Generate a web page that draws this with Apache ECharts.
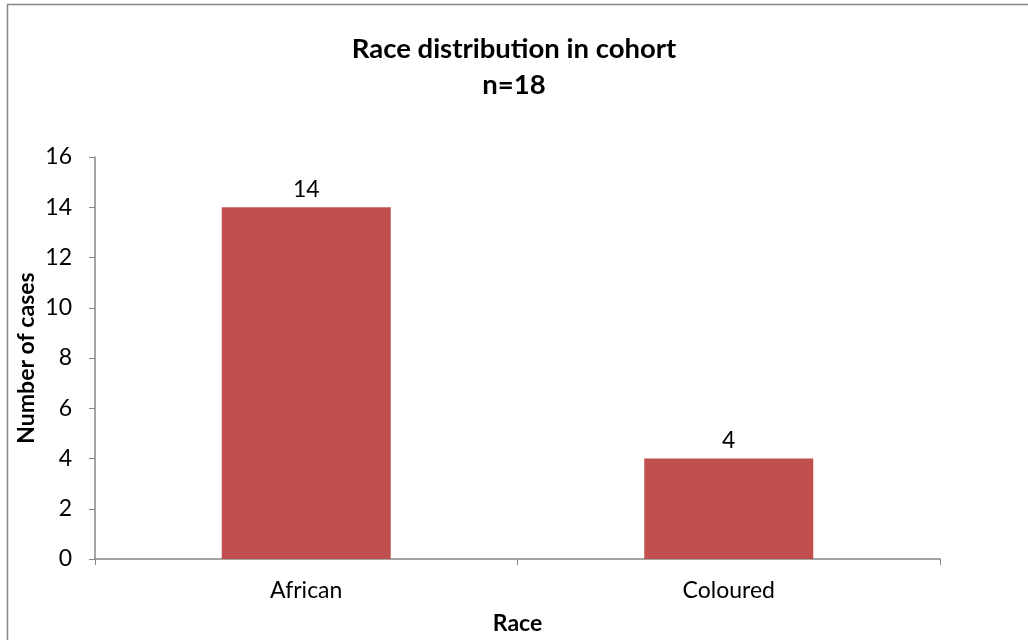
<!DOCTYPE html>
<html><head><meta charset="utf-8">
<script src="https://cdn.jsdelivr.net/npm/echarts@6/dist/echarts.min.js"></script>
<style>html,body{margin:0;padding:0;background:#fff}#c{width:1028px;height:640px}</style>
</head><body><div id="c"></div>
<script>
var categories = ['African', 'Coloured'];
var values = [14, 4];
var titleLines = ['Race distribution in cohort', 'n=18'];
var yAxisName = 'Number of cases';
var xAxisName = 'Race';

var font = 'Lato, "Liberation Sans", sans-serif';
var chart = echarts.init(document.getElementById('c'));
chart.setOption({
  backgroundColor: '#fff',
  animation: false,
  graphic: [{type: 'rect', shape: {x: 7.5, y: 4.5, width: 1040, height: 660}, style: {fill: 'none', stroke: '#868686', lineWidth: 1.5}, silent: true}],
  title: {
    text: titleLines.join('\n'), left: 'center', top: 26,
    textStyle: {fontFamily: font, fontWeight: 'bold', fontSize: 27.5, color: '#000', lineHeight: 36}
  },
  grid: {left: 95, right: 88, top: 157, bottom: 79},
  xAxis: {
    type: 'category', data: categories,
    name: xAxisName, nameLocation: 'middle', nameGap: 53, nameMoveOverlap: false,
    nameTextStyle: {fontFamily: font, fontWeight: 'bold', fontSize: 23, color: '#000'},
    axisLine: {lineStyle: {color: '#868686', width: 1.5}},
    axisTick: {show: true, length: 6, lineStyle: {color: '#868686'}},
    axisLabel: {fontFamily: font, fontSize: 23, color: '#000', margin: 20},
    splitLine: {show: false}
  },
  yAxis: {
    type: 'value', min: 0, max: 16, interval: 2,
    name: yAxisName, nameLocation: 'middle', nameGap: 57, nameMoveOverlap: false,
    nameTextStyle: {fontFamily: font, fontWeight: 'bold', fontSize: 23, color: '#000'},
    axisLine: {show: true, lineStyle: {color: '#868686', width: 1.5}},
    axisTick: {show: true, length: 6, lineStyle: {color: '#868686'}},
    axisLabel: {fontFamily: font, fontSize: 23, color: '#000', margin: 23},
    splitLine: {show: false}
  },
  series: [{
    type: 'bar', data: values, barWidth: '40%',
    itemStyle: {color: '#C0504D'},
    label: {show: true, position: 'top', distance: 6, fontFamily: font, fontSize: 23, color: '#000'}
  }]
});
</script></body></html>
